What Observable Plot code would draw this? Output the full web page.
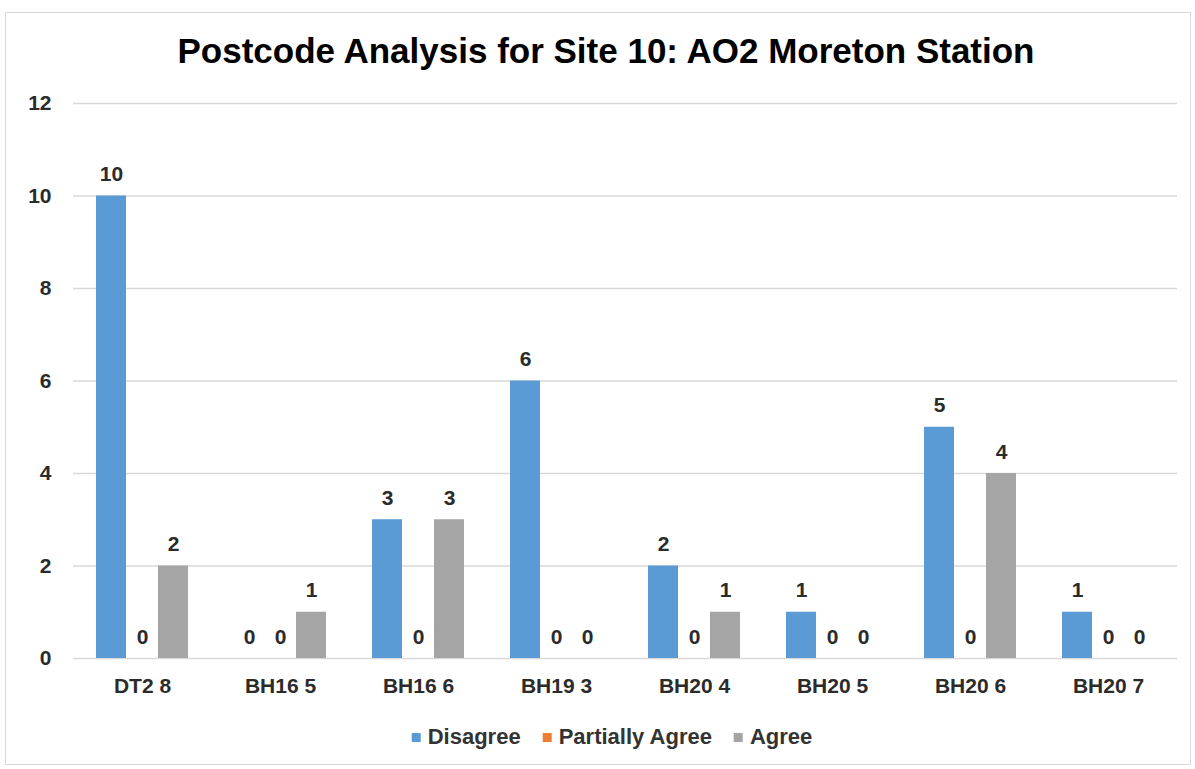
<!DOCTYPE html>
<html>
<head>
<meta charset="utf-8">
<script src="https://cdn.jsdelivr.net/npm/d3@7"></script>
<script src="https://cdn.jsdelivr.net/npm/@observablehq/plot@0.6"></script>
<style>
  html, body { margin: 0; padding: 0; background: #fff; }
  body { width: 1195px; height: 769px; position: relative; overflow: hidden;
         font-family: "Liberation Sans", Arial, sans-serif; }
  #frame { position: absolute; left: 5px; top: 12px; width: 1184px; height: 751px;
           border: 1px solid #d9d9d9; box-sizing: content-box; }
  #title { position: absolute; left: 606px; top: 33px; transform: translateX(-50%);
           white-space: nowrap; font-size: 35px; line-height: 1; font-weight: bold; color: #000; }
  #chart { position: absolute; left: 0; top: 0; }
  #legend { position: absolute; left: 612px; top: 726px; transform: translateX(-50%);
            display: flex; align-items: center; white-space: nowrap;
            font-size: 22px; line-height: 1; font-weight: bold; color: #333; }
  .item { display: flex; align-items: center; margin-right: 22px; }
  .item:last-child { margin-right: 0; }
  .sw { width: 9px; height: 9px; margin-right: 7px; }
</style>
</head>
<body>
<div id="frame"></div>
<div id="chart"></div>
<div id="title"></div>
<div id="legend"></div>
<script>
const titleText = "Postcode Analysis for Site 10: AO2 Moreton Station";
const categories = ["DT2 8", "BH16 5", "BH16 6", "BH19 3", "BH20 4", "BH20 5", "BH20 6", "BH20 7"];
const series = ["Disagree", "Partially Agree", "Agree"];
const disagree = [10, 0, 3, 6, 2, 1, 5, 1];
const partiallyAgree = [0, 0, 0, 0, 0, 0, 0, 0];
const agree = [2, 1, 3, 0, 1, 0, 4, 0];
const yTicks = [0, 2, 4, 6, 8, 10, 12];
const colors = ["#5B9BD5", "#ED7D31", "#A5A5A5"];

const valuesBySeries = [disagree, partiallyAgree, agree];
const data = [];
categories.forEach((c, i) => {
  series.forEach((s, j) => data.push({cat: c, series: s, value: valuesBySeries[j][i]}));
});

const chart = Plot.plot({
  width: 1195,
  height: 700,
  marginLeft: 72,
  marginRight: 17,
  marginTop: 103,
  marginBottom: 42,
  style: {fontFamily: "'Liberation Sans', Arial, sans-serif", color: "#2b2b2b", background: "transparent"},
  fx: {domain: categories, paddingInner: 0, paddingOuter: 0, label: null},
  x: {domain: series, paddingInner: 0.048, paddingOuter: 0.72, axis: null},
  y: {domain: [0, 12], label: null},
  color: {domain: series, range: colors},
  marks: [
    Plot.gridY(yTicks, {stroke: "#d9d9d9", strokeOpacity: 1, strokeWidth: 1.3}),
    Plot.axisY(yTicks, {tickSize: 0, tickPadding: 22, fontSize: 21, fontWeight: "bold", label: null}),
    Plot.axisFx({anchor: "bottom", tickSize: 0, tickPadding: 20, fontSize: 21, fontWeight: "bold", label: null}),
    Plot.barY(data, {fx: "cat", x: "series", y: "value", fill: "series"}),
    Plot.text(data, {fx: "cat", x: "series", y: "value", text: d => String(d.value),
      lineAnchor: "bottom", dy: -15, fontSize: 21, fontWeight: "bold", fill: "#2b2b2b"})
  ]
});
document.getElementById("chart").appendChild(chart);
document.getElementById("title").textContent = titleText;

const legend = document.getElementById("legend");
series.forEach((s, j) => {
  const item = document.createElement("div");
  item.className = "item";
  const sw = document.createElement("span");
  sw.className = "sw";
  sw.style.background = colors[j];
  const lab = document.createElement("span");
  lab.textContent = s;
  item.appendChild(sw);
  item.appendChild(lab);
  legend.appendChild(item);
});
</script>
</body>
</html>
